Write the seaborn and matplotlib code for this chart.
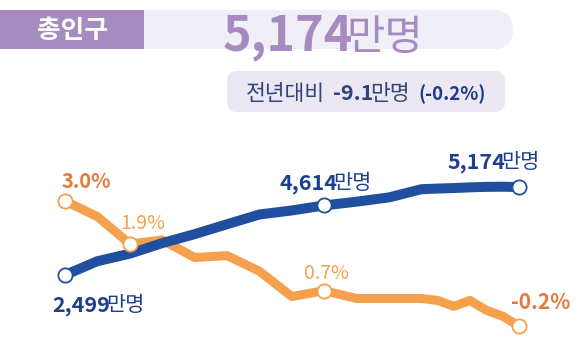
import numpy as np
import pandas as pd
import matplotlib
matplotlib.use("Agg")
import matplotlib.pyplot as plt
import seaborn as sns
from matplotlib.patches import Rectangle, FancyBboxPatch
from matplotlib.transforms import IdentityTransform

# Census years and values
years = [1960, 1966, 1970, 1975, 1980, 1985, 1990, 1995, 2000, 2005,
         2010, 2015, 2016, 2017, 2018, 2019, 2020, 2021]
population = [2499, 2919, 3147, 3468, 3741, 4042, 4339, 4461, 4614, 4728,
              4858, 5107, 5127, 5142, 5163, 5178, 5183, 5174]          # 만명
growth = [3.0, 2.6, 1.9, 2.0, 1.55, 1.6, 1.2, 0.55, 0.7, 0.5,
          0.5, 0.5, 0.45, 0.3, 0.45, 0.2, 0.05, -0.2]                  # %

pop_marked = [1960, 2000, 2021]
growth_marked = [1960, 1970, 2000, 2021]

title_label = "총인구"
total_value = "5,174"
change_prefix = "전년대비"
change_value = "-9.1"
change_rate = "(-0.2%)"
unit = "만명"

PURPLE = "#a68bc0"
BAR_BG = "#f0eef6"
BOX_BG = "#ebe8f3"
BLUE = "#214f9f"
BLUE_TXT = "#1d3f8c"
ORANGE = "#f5a04c"
ORANGE_DARK = "#e8793a"
ORANGE_LIGHT = "#f4a24e"
SLATE = "#34447a"

sns.set_theme(style="white")
plt.rcParams["font.family"] = ["Noto Sans CJK KR", "DejaVu Sans"]

W, H = 580, 337
fig = plt.figure(figsize=(W / 100, H / 100), dpi=100)
fig.patch.set_facecolor("white")
PIX = IdentityTransform()

# census points evenly spaced, annual points after 2015 at half spacing
steps = [0.0] + [1.0 if y <= 2015 else 0.5 for y in years[1:]]
df = pd.DataFrame({"year": years, "pos": np.cumsum(steps),
                   "pop": population, "growth": growth})

X0, DX = 65, 32.4


def plane(ylim, z):
    ax = fig.add_axes([0, 0, 1, 1], zorder=z)
    ax.set_xlim(-X0 / DX, (W - X0) / DX)
    ax.set_ylim(*ylim)
    ax.axis("off")
    ax.patch.set_alpha(0)
    return ax


g_lim = (3.0 - 136 / 39, 3.0 + 201 / 39)
p_lim = (2499 - 62 * 30.4, 2499 + 275 * 30.4)
ax_g = plane(g_lim, 1)
ax_p = plane(p_lim, 2)
ax_gm = plane(g_lim, 3)

sns.lineplot(data=df, x="pos", y="growth", ax=ax_g, color=ORANGE,
             linewidth=6.5, solid_capstyle="round", solid_joinstyle="round")
sns.lineplot(data=df, x="pos", y="pop", ax=ax_p, color=BLUE,
             linewidth=7.2, solid_capstyle="round", solid_joinstyle="round")
sns.scatterplot(data=df[df.year.isin(pop_marked)], x="pos", y="pop", ax=ax_p,
                s=105, color="white", edgecolor=BLUE, linewidth=1.3, zorder=5)
sns.scatterplot(data=df[df.year.isin(growth_marked)], x="pos", y="growth", ax=ax_gm,
                s=105, color="white", edgecolor=ORANGE, linewidth=1.3, zorder=5)
for a in (ax_g, ax_p, ax_gm):
    a.set_xlim(-X0 / DX, (W - X0) / DX)
    a.axis("off")
ax_g.set_ylim(*g_lim)
ax_gm.set_ylim(*g_lim)
ax_p.set_ylim(*p_lim)

renderer = fig.canvas.get_renderer()


def runs(x, y, parts, ha="left", gap=0.0):
    """Place text pieces side by side on one baseline (display pixels)."""
    items = []
    for s, size, weight, color in parts:
        t = fig.text(0, 0, s, fontsize=size, fontweight=weight, color=color,
                     transform=PIX, va="baseline", ha="left", zorder=10)
        items.append(t)
    widths = [t.get_window_extent(renderer).width for t in items]
    total = sum(widths) + gap * (len(items) - 1)
    start = x - {"left": 0, "center": total / 2, "right": total}[ha]
    for t, w in zip(items, widths):
        t.set_position((start, y))
        start += w + gap


def at_point(ax, col, year, dx, dy, parts, ha):
    row = df[df.year == year].iloc[0]
    px, py = ax.transData.transform((row["pos"], row[col]))
    runs(px + dx, py + dy, parts, ha=ha, gap=-4)


def fmt_pop(v):
    return f"{v:,}"


def fmt_rate(v):
    return f"{v:.1f}%"


def gval(year):
    return growth[years.index(year)]


def pval(year):
    return population[years.index(year)]


# growth-rate labels
at_point(ax_gm, "growth", 1960, -3, 13,
         [(fmt_rate(gval(1960)), 14.5, "bold", ORANGE_DARK)], "left")
at_point(ax_gm, "growth", 1970, -10, 15,
         [(fmt_rate(gval(1970)), 14, "medium", ORANGE_LIGHT)], "left")
at_point(ax_gm, "growth", 2000, 2, 12,
         [(fmt_rate(gval(2000)), 14, "medium", ORANGE_LIGHT)], "center")
at_point(ax_gm, "growth", 2021, -8, 17,
         [(fmt_rate(gval(2021)), 15, "bold", ORANGE_DARK)], "left")

# population labels
for yr, dx, dy, ha in [(1960, -13, -36, "left"), (2000, 1, 16, "center"), (2021, -25, 19, "center")]:
    at_point(ax_p, "pop", yr, dx, dy,
             [(fmt_pop(pval(yr)), 15.5, "bold", BLUE_TXT), (unit, 15, "medium", BLUE_TXT)], ha)

# header band
fig.add_artist(FancyBboxPatch((120, H - 49), 393, 39,
                              boxstyle="round,pad=0,rounding_size=19.5",
                              facecolor=BAR_BG, edgecolor="none", transform=PIX, zorder=1))
fig.add_artist(Rectangle((0, H - 49), 144, 39, facecolor=PURPLE,
                         edgecolor="none", transform=PIX, zorder=2))
fig.text(72, H - 30, title_label, fontsize=18.5, fontweight="bold", color="white",
         ha="center", va="center", transform=PIX, zorder=10)
runs(223, H - 50, [(total_value, 35, "bold", PURPLE), (unit, 30, "medium", PURPLE)], gap=-7)

# year-on-year change box
fig.add_artist(FancyBboxPatch((227, H - 112), 278, 41,
                              boxstyle="round,pad=0,rounding_size=10",
                              facecolor=BOX_BG, edgecolor="none", transform=PIX, zorder=1))
runs(246, H - 100, [(change_prefix, 15.5, "medium", SLATE)])
runs(333, H - 100, [(change_value, 15.5, "bold", SLATE), (unit, 15.5, "medium", SLATE)], gap=-3)
runs(418, H - 100, [(change_rate, 13.5, "bold", "#1e3a8a")])

fig.savefig("out.png", dpi=100, facecolor="white")
